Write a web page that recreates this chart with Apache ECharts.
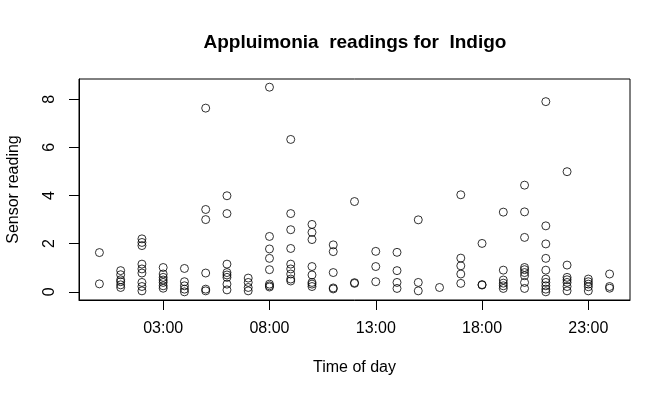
<!DOCTYPE html>
<html>
<head>
<meta charset="utf-8">
<script src="https://cdn.jsdelivr.net/npm/echarts@6.0.0/dist/echarts.min.js"></script>
<style>
  html, body { margin: 0; padding: 0; background: #fff; }
  #chart-container { width: 671px; height: 398px; }
</style>
</head>
<body>
<div id="chart-container"></div>
<script>
// readings per hour of day (hour 0 .. 24)
var hours = [0, 1, 2, 3, 4, 5, 6, 7, 8, 9, 10, 11, 12, 13, 14, 15, 16, 17, 18, 19, 20, 21, 22, 23, 24];
var readings = [
    [1.63, 0.33],
    [0.88, 0.71, 0.5, 0.42, 0.29, 0.18],
    [2.2, 2.05, 1.92, 1.15, 0.95, 0.78, 0.39, 0.22, 0.04],
    [1.01, 0.74, 0.6, 0.49, 0.39, 0.25, 0.15],
    [0.97, 0.42, 0.25, 0.11, 0.0],
    [7.63, 3.42, 3.0, 0.78, 0.11, 0.04],
    [3.99, 3.25, 1.15, 0.8, 0.7, 0.6, 0.32, 0.08],
    [0.57, 0.39, 0.18, 0.04],
    [8.5, 2.3, 1.78, 1.39, 0.92, 0.32, 0.25, 0.2],
    [6.33, 3.25, 2.58, 1.8, 1.15, 0.95, 0.74, 0.53, 0.45],
    [2.8, 2.47, 2.17, 1.05, 0.7, 0.39, 0.32, 0.22],
    [1.95, 1.67, 0.8, 0.16, 0.12],
    [3.75, 0.38, 0.35],
    [1.68, 1.05, 0.42],
    [1.64, 0.88, 0.39, 0.14],
    [2.99, 0.39, 0.04],
    [0.18],
    [4.03, 1.4, 1.08, 0.74, 0.35],
    [2.01, 0.3, 0.28],
    [3.31, 0.9, 0.49, 0.36, 0.25, 0.14],
    [4.43, 3.32, 2.26, 1.01, 0.92, 0.8, 0.67, 0.39, 0.14],
    [7.9, 2.74, 1.99, 1.39, 0.9, 0.53, 0.39, 0.25, 0.11, 0.0],
    [4.99, 1.11, 0.6, 0.5, 0.39, 0.22, 0.04],
    [0.53, 0.42, 0.32, 0.21, 0.04],
    [0.74, 0.22, 0.15]
];
var xTicks = [3, 8, 13, 18, 23];
var yTicks = [0, 2, 4, 6, 8];

var points = [];
hours.forEach(function (h, i) {
    readings[i].forEach(function (v) {
        points.push([h, v]);
    });
});

var font = '"Liberation Sans", Arial, sans-serif';
var dom = document.getElementById('chart-container');
var myChart = echarts.init(dom, null, { renderer: 'canvas' });

var option = {
    backgroundColor: '#fff',
    animation: false,
    title: {
        text: 'Appluimonia  readings for  Indigo',
        left: 350,
        top: 28,
        textAlign: 'center',
        textStyle: { fontFamily: font, fontSize: 19, fontWeight: 'bold', color: '#000' }
    },
    grid: {
        left: 79, right: 41, top: 79, bottom: 98,
        outerBoundsMode: 'none',
        containLabel: false,
        show: true, borderColor: '#000', borderWidth: 1, backgroundColor: 'transparent'
    },
    xAxis: {
        type: 'value',
        min: -0.96,
        max: 24.96,
        name: 'Time of day',
        nameLocation: 'middle',
        nameGap: 60,
        nameTextStyle: { fontFamily: font, fontSize: 16, color: '#000' },
        splitLine: { show: false },
        axisLine: { show: true, onZero: false, lineStyle: { color: '#000', width: 1 } },
        axisTick: { show: true, length: 10, customValues: xTicks, lineStyle: { color: '#000' } },
        axisLabel: {
            customValues: xTicks,
            margin: 21,
            fontFamily: font, fontSize: 16, color: '#000',
            formatter: function (v) { return (v < 10 ? '0' : '') + v + ':00'; }
        }
    },
    yAxis: {
        type: 'value',
        min: -0.34,
        max: 8.84,
        name: 'Sensor reading',
        nameLocation: 'middle',
        nameGap: 57,
        nameTextStyle: { fontFamily: font, fontSize: 16, color: '#000' },
        splitLine: { show: false },
        axisLine: { show: true, onZero: false, lineStyle: { color: '#000', width: 1 } },
        axisTick: { show: true, length: 10, customValues: yTicks, lineStyle: { color: '#000' } },
        axisLabel: {
            customValues: yTicks,
            rotate: 90,
            margin: 21,
            fontFamily: font, fontSize: 16, color: '#000'
        }
    },
    series: [{
        type: 'scatter',
        data: points,
        symbol: 'circle',
        symbolSize: 8,
        itemStyle: { color: 'rgba(0,0,0,0)', borderColor: '#000', borderWidth: 1 }
    }]
};

myChart.setOption(option);
window.addEventListener('resize', myChart.resize);
</script>
</body>
</html>
